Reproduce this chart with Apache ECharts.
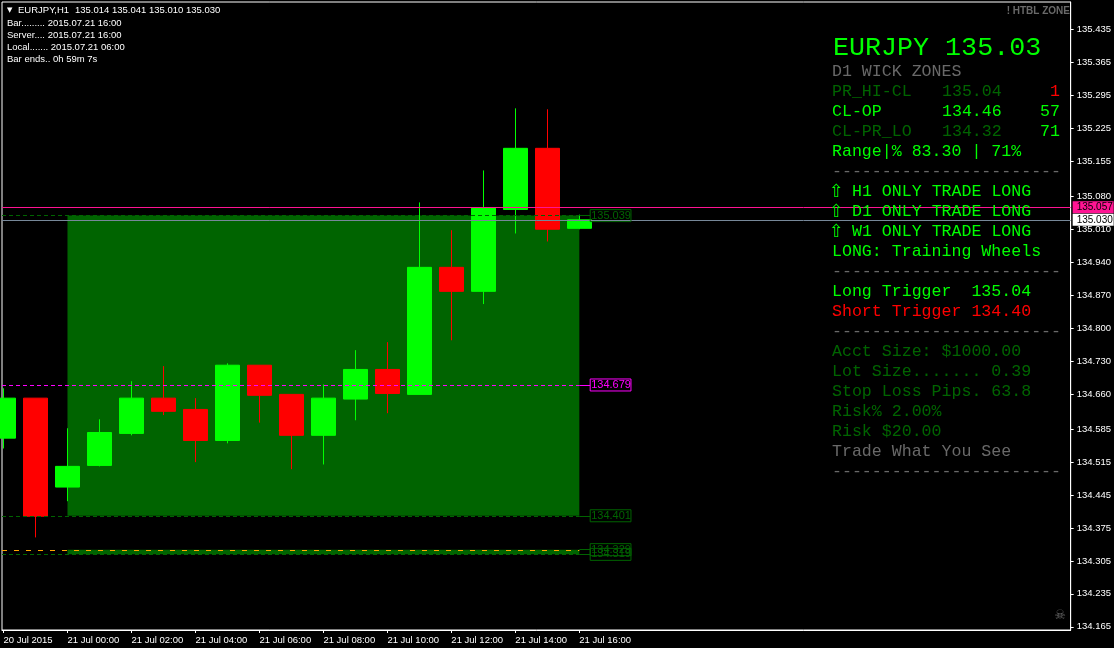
<!DOCTYPE html>
<html>
<head>
<meta charset="utf-8">
<style>
  html, body { margin: 0; background: #000; }
  #chart { width: 1114px; height: 648px; }
</style>
<script src="https://cdn.jsdelivr.net/npm/echarts@6/dist/echarts.min.js"></script>
</head>
<body>
<div id="chart"></div>
<script>
// bars, one per hour, first one is 20 Jul 22:00
const barIndex = [0, 1, 2, 3, 4, 5, 6, 7, 8, 9, 10, 11, 12, 13, 14, 15, 16, 17, 18]
const opens = [134.566, 134.651, 134.462, 134.508, 134.576, 134.651, 134.627, 134.561, 134.721, 134.659, 134.572, 134.649, 134.712, 134.659, 134.929, 134.878, 135.052, 135.182, 135.012]
const closes = [134.651, 134.400, 134.506, 134.578, 134.651, 134.623, 134.561, 134.721, 134.657, 134.572, 134.651, 134.712, 134.661, 134.929, 134.878, 135.055, 135.182, 135.010, 135.030]
const lows = [134.544, 134.355, 134.432, 134.506, 134.572, 134.615, 134.515, 134.555, 134.599, 134.500, 134.510, 134.604, 134.619, 134.659, 134.774, 134.851, 135.001, 134.984, 135.010]
const highs = [134.672, 134.651, 134.587, 134.606, 134.687, 134.719, 134.651, 134.725, 134.721, 134.659, 134.680, 134.753, 134.770, 135.067, 135.008, 135.135, 135.267, 135.265, 135.041]

const xTicks = [0, 2, 4, 6, 8, 10, 12, 14, 16, 18]
const xLabels = ['20 Jul 2015', '21 Jul 00:00', '21 Jul 02:00', '21 Jul 04:00', '21 Jul 06:00', '21 Jul 08:00', '21 Jul 10:00', '21 Jul 12:00', '21 Jul 14:00', '21 Jul 16:00']
const yTicks = [135.435, 135.365, 135.295, 135.225, 135.155, 135.080, 135.010, 134.940, 134.870, 134.800, 134.730, 134.660, 134.585, 134.515, 134.445, 134.375, 134.305, 134.235, 134.165]

// price levels
const zoneHigh = [135.039, 134.401]
const zoneLow = [134.329, 134.319]
const midLevel = 134.679
const orangeLevel = 134.328
const askLevel = 135.057
const bidLevel = 135.030

const xMin = -0.046875
const xMax = 33.359
const zoneStart = 2
const zoneEnd = 18
const tagEnd = 18.34

const GREEN = '#00ff00'
const DARK = '#006400'
const GRAY = '#696969'
const RED = '#ff0000'
const SANS = 'Liberation Sans'
const MONO = 'Liberation Mono'

function levelLabel(color) {
  return {
    show: true,
    position: 'end',
    distance: 0,
    formatter: p => p.data.price.toFixed(3),
    color: color,
    fontFamily: SANS,
    fontSize: 11,
    borderColor: color,
    borderWidth: 1,
    padding: [1, 0, 0, 1],
  }
}

function dashed(v, color, to, dash) {
  return [
    { coord: [xMin, v], lineStyle: { color: color, width: 1, type: dash || [4, 3] } },
    { coord: [to, v] },
  ]
}

function tagged(v, color) {
  return [
    { coord: [zoneEnd, v], price: v, lineStyle: { color: color, width: 1, type: 'solid' }, label: levelLabel(color) },
    { coord: [tagEnd, v] },
  ]
}

function priceTag(v, lineColor, bg) {
  return [
    { coord: [xMin, v], price: v, lineStyle: { color: lineColor, width: 1, type: 'solid' }, label: {
      show: true, position: 'end', distance: 2, formatter: p => p.data.price.toFixed(3),
      color: '#000', fontFamily: SANS, fontSize: 10, backgroundColor: bg, padding: [1, 1, 1, 4], width: 36,
    } },
    { coord: [xMax, v] },
  ]
}

function txt(x, y, str, color, font, align) {
  return {
    type: 'text',
    z: 20,
    style: { x: x, y: y, text: str, fill: color, font: font, textAlign: align || 'left', textVerticalAlign: 'middle' },
  }
}

const small = '9.5px "' + SANS + '"'
const mono = '16.6px "' + MONO + '"'
const arrow = '18px "DejaVu Sans"'
const dashes = '-----------------------'

const texts = [
  txt(7, 10, '\u25BC', '#fff', '7px "DejaVu Sans"'),
  txt(18, 10, 'EURJPY,H1', '#fff', small),
  txt(75, 10, '135.014 135.041 135.010 135.030', '#fff', small),
  txt(7, 23, 'Bar......... 2015.07.21 16:00', '#fff', small),
  txt(7, 35, 'Server.... 2015.07.21 16:00', '#fff', small),
  txt(7, 47, 'Local....... 2015.07.21 06:00', '#fff', small),
  txt(7, 59, 'Bar ends.. 0h 59m 7s', '#fff', small),
  txt(1070, 11, '! HTBL ZONE', GRAY, 'bold 10px "' + SANS + '"', 'right'),
  txt(1060, 616, '\u2620', GRAY, '13px "DejaVu Sans"', 'center'),

  txt(833, 48, 'EURJPY 135.03', GREEN, '26.7px "' + MONO + '"'),
  txt(832, 72, 'D1 WICK ZONES', GRAY, mono),
  txt(832, 92, 'PR_HI-CL', DARK, mono),
  txt(942, 92, '135.04', DARK, mono),
  txt(1060, 92, '1', RED, mono, 'right'),
  txt(832, 112, 'CL-OP', GREEN, mono),
  txt(942, 112, '134.46', GREEN, mono),
  txt(1060, 112, '57', GREEN, mono, 'right'),
  txt(832, 132, 'CL-PR_LO', DARK, mono),
  txt(942, 132, '134.32', DARK, mono),
  txt(1060, 132, '71', GREEN, mono, 'right'),
  txt(832, 152, 'Range|% 83.30 | 71%', GREEN, mono),
  txt(832, 172, dashes, GRAY, mono),
  txt(829, 192, '\u21E7', GREEN, arrow),
  txt(852, 192, 'H1 ONLY TRADE LONG', GREEN, mono),
  txt(829, 212, '\u21E7', GREEN, arrow),
  txt(852, 212, 'D1 ONLY TRADE LONG', GREEN, mono),
  txt(829, 232, '\u21E7', GREEN, arrow),
  txt(852, 232, 'W1 ONLY TRADE LONG', GREEN, mono),
  txt(832, 252, 'LONG: Training Wheels', GREEN, mono),
  txt(832, 272, dashes, GRAY, mono),
  txt(832, 292, 'Long Trigger  135.04', GREEN, mono),
  txt(832, 312, 'Short Trigger 134.40', RED, mono),
  txt(832, 332, dashes, GRAY, mono),
  txt(832, 352, 'Acct Size: $1000.00', DARK, mono),
  txt(832, 372, 'Lot Size....... 0.39', DARK, mono),
  txt(832, 392, 'Stop Loss Pips. 63.8', DARK, mono),
  txt(832, 412, 'Risk% 2.00%', DARK, mono),
  txt(832, 432, 'Risk $20.00', DARK, mono),
  txt(832, 452, 'Trade What You See', GRAY, mono),
  txt(832, 472, dashes, GRAY, mono),
]

const chart = echarts.init(document.getElementById('chart'), null, { renderer: 'canvas' })

chart.setOption({
  animation: false,
  backgroundColor: '#000',
  grid: { left: 2, right: 43, top: 2, bottom: 18, show: true, borderColor: '#fff', borderWidth: 1, backgroundColor: '#000' },
  xAxis: {
    type: 'value',
    min: xMin,
    max: xMax,
    splitLine: { show: false },
    axisLine: { show: true, onZero: false, lineStyle: { color: '#fff' } },
    axisTick: { show: true, inside: false, length: 3, customValues: xTicks, lineStyle: { color: '#fff' } },
    axisLabel: {
      customValues: xTicks,
      formatter: v => xLabels[xTicks.indexOf(v)],
      color: '#fff',
      fontFamily: SANS,
      fontSize: 9.5,
      align: 'left',
      margin: 5,
      padding: [0, 1, 0, 0],
    },
  },
  yAxis: {
    type: 'value',
    position: 'right',
    min: 134.1582,
    max: 135.4930,
    splitLine: { show: false },
    axisLine: { show: true, onZero: false, lineStyle: { color: '#fff' } },
    axisTick: { show: true, inside: false, length: 3, customValues: yTicks, lineStyle: { color: '#fff' } },
    axisLabel: {
      customValues: yTicks,
      formatter: v => v.toFixed(3),
      color: '#fff',
      fontFamily: SANS,
      fontSize: 9.5,
      margin: 6,
    },
  },
  graphic: { elements: texts },
  series: [
    {
      // zones and the solid price lines sit behind the bars
      type: 'line',
      z: 1,
      data: [],
      symbol: 'none',
      markArea: {
        silent: true,
        itemStyle: { color: DARK },
        data: [
          [{ coord: [zoneStart, zoneHigh[0]] }, { coord: [zoneEnd, zoneHigh[1]] }],
          [{ coord: [zoneStart, zoneLow[0]] }, { coord: [zoneEnd, zoneLow[1]] }],
        ],
      },
      markLine: {
        silent: true,
        symbol: 'none',
        data: [
          priceTag(askLevel, '#ff1493', '#ff1493'),
          priceTag(bidLevel, '#778899', '#fff'),
        ],
      },
    },
    {
      type: 'candlestick',
      z: 3,
      barWidth: 25,
      encode: { x: 0, y: [1, 2, 3, 4] },
      itemStyle: { color: GREEN, color0: RED, borderColor: GREEN, borderColor0: RED, borderWidth: 1 },
      data: barIndex.map(i => [i, opens[i], closes[i], lows[i], highs[i]]),
    },
    {
      // dashed levels and their boxes are on top of the bars
      type: 'line',
      z: 5,
      data: [],
      symbol: 'none',
      markLine: {
        silent: true,
        symbol: 'none',
        data: [
          dashed(zoneHigh[0], DARK, zoneEnd),
          dashed(zoneHigh[1], DARK, zoneEnd),
          dashed(zoneLow[1], DARK, zoneEnd),
          dashed(midLevel, '#ff00ff', zoneEnd),
          dashed(orangeLevel, '#ffa500', zoneEnd, [5, 7]),
          tagged(zoneHigh[0], DARK),
          tagged(zoneHigh[1], DARK),
          tagged(zoneLow[0], DARK),
          tagged(zoneLow[1], DARK),
          tagged(midLevel, '#ff00ff'),
        ],
      },
    },
  ],
})
</script>
</body>
</html>
